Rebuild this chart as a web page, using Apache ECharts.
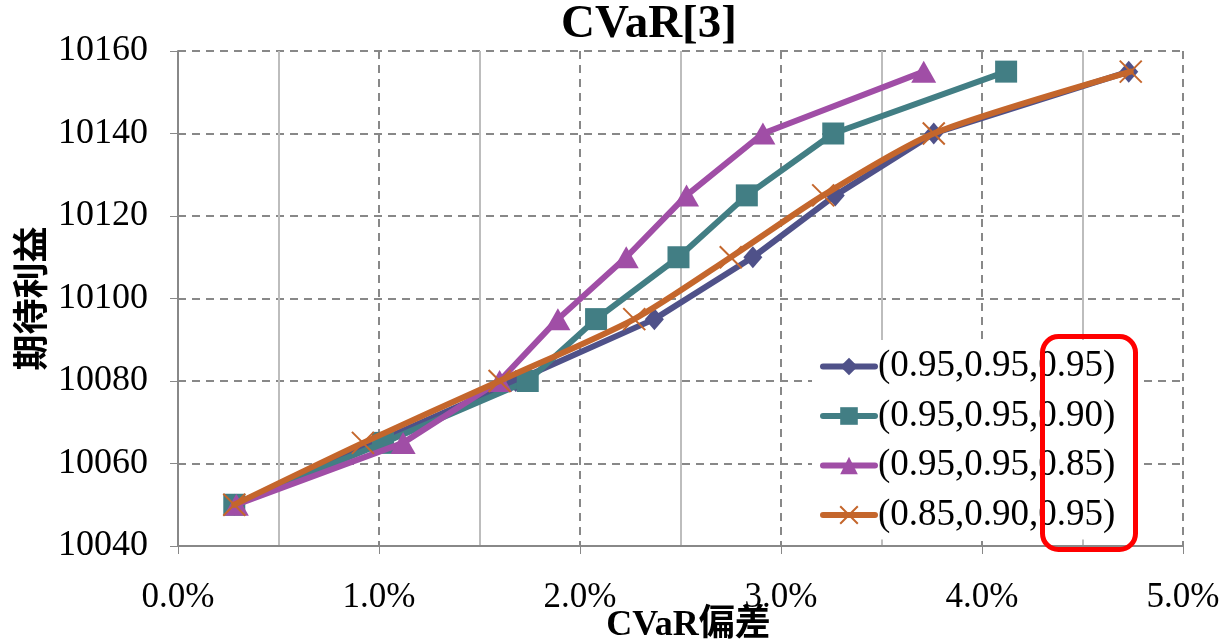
<!DOCTYPE html>
<html><head><meta charset="utf-8">
<script src="https://cdn.jsdelivr.net/npm/echarts@6/dist/echarts.min.js"></script>
<style>html,body{margin:0;padding:0;background:#fff}#c{width:1220px;height:642px}</style>
</head><body><div id="c"></div>
<script>
const titleText = 'CVaR[3]';
const xName = 'CVaR偏差';
const yName = '期待利益';
const seriesNames = ['(0.95,0.95,0.95)', '(0.95,0.95,0.90)', '(0.95,0.95,0.85)', '(0.85,0.90,0.95)'];
const profit = [10050, 10065, 10080, 10095, 10110, 10125, 10140, 10155];
const cvarA = [0.28, 0.98, 1.68, 2.37, 2.86, 3.27, 3.76, 4.73];
const cvarB = [0.28, 1.02, 1.74, 2.08, 2.49, 2.83, 3.26, 4.12];
const cvarC = [0.29, 1.12, 1.60, 1.89, 2.23, 2.53, 2.91, 3.71];
const cvarD = [0.28, 0.92, 1.60, 2.27, 2.75, 3.21, 3.76, 4.74];
const xTicks = [0, 1, 2, 3, 4, 5];
const yTicks = [10040, 10060, 10080, 10100, 10120, 10140, 10160];

const colors = ['#4F5189', '#427E84', '#A04EA6', '#C4662C'];
const symbols = ['diamond', 'rect', 'triangle', 'path://M0,0L10,10M10,0L0,10'];
const symSizes = [[19, 22], 22, [25, 22], 22];
const xs = [cvarA, cvarB, cvarC, cvarD];
const serif = '"Liberation Serif", "Times New Roman", "Noto Sans CJK JP", serif';
const chart = echarts.init(document.getElementById('c'));
const series = seriesNames.map((n, i) => ({
  name: n, type: 'line',
  data: xs[i].map((x, k) => [x, profit[k]]),
  smooth: i === 3 ? 0.25 : false,
  symbol: symbols[i], symbolSize: symSizes[i],
  lineStyle: { color: colors[i], width: 6, cap: 'round' },
  itemStyle: i === 3 ? { color: colors[i], borderColor: colors[i], borderWidth: 2 } : { color: colors[i] },
  z: 2 + i
}));
chart.setOption({
  animation: false,
  backgroundColor: '#fff',
  title: { text: titleText, left: 644, top: -4, textAlign: 'center',
    textStyle: { fontFamily: serif, fontWeight: 'bold', fontSize: 47, color: '#000' } },
  grid: { left: 178, right: 37, top: 51, bottom: 96, outerBoundsMode: 'none', containLabel: false },
  legend: {
    orient: 'vertical', left: 812, top: 340, itemWidth: 52, itemHeight: 22, itemGap: 12.5,
    backgroundColor: '#fff', padding: [8, 24, 6, 8],
    data: seriesNames,
    lineStyle: { width: 6, cap: 'round' },
    textStyle: { fontFamily: serif, fontSize: 37, color: '#000', padding: [0, 0, 0, -2] }
  },
  xAxis: {
    type: 'value', min: xTicks[0], max: xTicks[xTicks.length - 1], interval: 1,
    name: xName, nameLocation: 'middle', nameGap: 62, nameMoveOverlap: false,
    nameTextStyle: { fontFamily: serif, fontWeight: 'bold', fontSize: 36, color: '#000', padding: [0, 0, 0, 16] },
    axisLine: { lineStyle: { color: '#888', width: 2 } },
    axisTick: { show: true, length: 8, lineStyle: { color: '#888' } },
    axisLabel: { fontFamily: serif, fontSize: 35, color: '#000', margin: 34,
      formatter: v => v.toFixed(1) + '%' },
    splitLine: { show: true, lineStyle: { color: '#888', type: [8, 6], width: 2 } },
    minorTick: { show: false, splitNumber: 2 },
    minorSplitLine: { show: true, lineStyle: { color: '#BDBDBD', width: 2 } }
  },
  yAxis: {
    type: 'value', min: yTicks[0], max: yTicks[yTicks.length - 1], interval: 20,
    name: yName, nameLocation: 'middle', nameGap: 130, nameRotate: 90, nameMoveOverlap: false,
    nameTextStyle: { fontFamily: '"Noto Sans CJK JP", sans-serif', fontWeight: 'bold', fontSize: 36, color: '#000' },
    axisLine: { show: true, lineStyle: { color: '#888', width: 2 } },
    axisTick: { show: true, length: 8, lineStyle: { color: '#888' } },
    axisLabel: { fontFamily: serif, fontSize: 36, color: '#000', margin: 30, formatter: v => String(v) },
    splitLine: { show: true, lineStyle: { color: '#888', type: [8, 6], width: 2 } }
  },
  graphic: [{
    type: 'rect', left: 1040, top: 334, z: 100,
    shape: { width: 93, height: 213, r: 16 },
    style: { fill: 'none', stroke: '#FF0000', lineWidth: 5 }
  }],
  series: series
});
</script></body></html>
